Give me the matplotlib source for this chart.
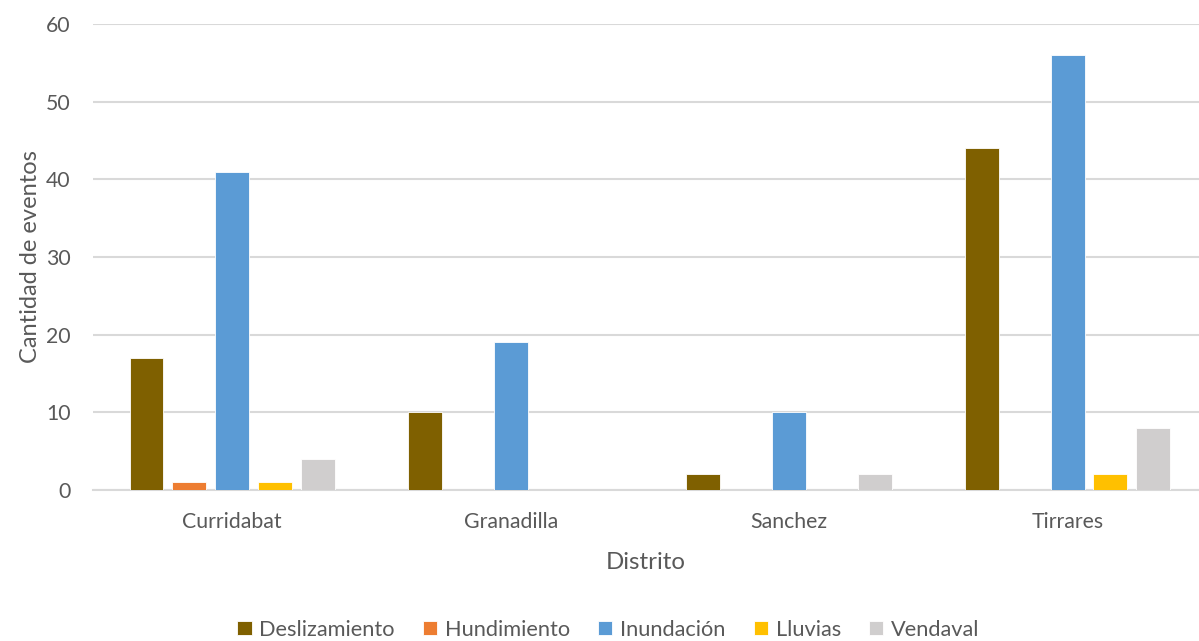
import numpy as np
import matplotlib.pyplot as plt

distritos = ["Curridabat", "Granadilla", "Sanchez", "Tirrares"]
series = ["Deslizamiento", "Hundimiento", "Inundación", "Lluvias", "Vendaval"]
deslizamiento = [17, 10, 2, 44]
hundimiento = [1, 0, 0, 0]
inundacion = [41, 19, 10, 56]
lluvias = [1, 0, 0, 2]
vendaval = [4, 0, 2, 8]
valores = [deslizamiento, hundimiento, inundacion, lluvias, vendaval]
colores = ["#7F6000", "#ED7D31", "#5B9BD5", "#FFC000", "#D0CECE"]

plt.rcParams["font.family"] = ["Lato", "DejaVu Sans"]
gris = "#595959"

fig = plt.figure(figsize=(11.99, 6.41), dpi=100)
ax = fig.add_axes([0.0776, 0.2356, 0.9224, 0.727])

x = np.arange(len(distritos))
paso = 0.154
ancho = 0.122
for i, (nombre, vals, col) in enumerate(zip(series, valores, colores)):
    ax.bar(x + (i - 2) * paso, vals, ancho, color=col, label=nombre,
           edgecolor="white", linewidth=0.6, zorder=3)

ax.set_xlim(-0.5, 3.472)
ax.set_ylim(0, 60)
ax.set_yticks(range(0, 61, 10))
ax.set_xticks(x)
ax.set_xticklabels(distritos)
ax.yaxis.grid(True, color="#D9D9D9", linewidth=1.5, zorder=0)
ax.set_axisbelow(True)
for s in ["top", "right", "left"]:
    ax.spines[s].set_visible(False)
ax.spines["bottom"].set_color("#D9D9D9")
ax.spines["bottom"].set_linewidth(1.5)
ax.tick_params(axis="both", length=0, labelsize=15.3, labelcolor=gris)
ax.tick_params(axis="x", pad=16)
ax.tick_params(axis="y", pad=16)

ax.set_xlabel("Distrito", fontsize=17.3, color=gris, labelpad=14)
ax.set_ylabel("Cantidad de eventos", fontsize=17, color=gris, labelpad=4)

ax.legend(loc="center", bbox_to_anchor=(0.466, -0.30), ncol=5, frameon=False,
          fontsize=15.7, labelcolor=gris, handlelength=0.65, handleheight=0.65,
          handletextpad=0.35, columnspacing=1.3)

fig.savefig("out.png", dpi=100)
